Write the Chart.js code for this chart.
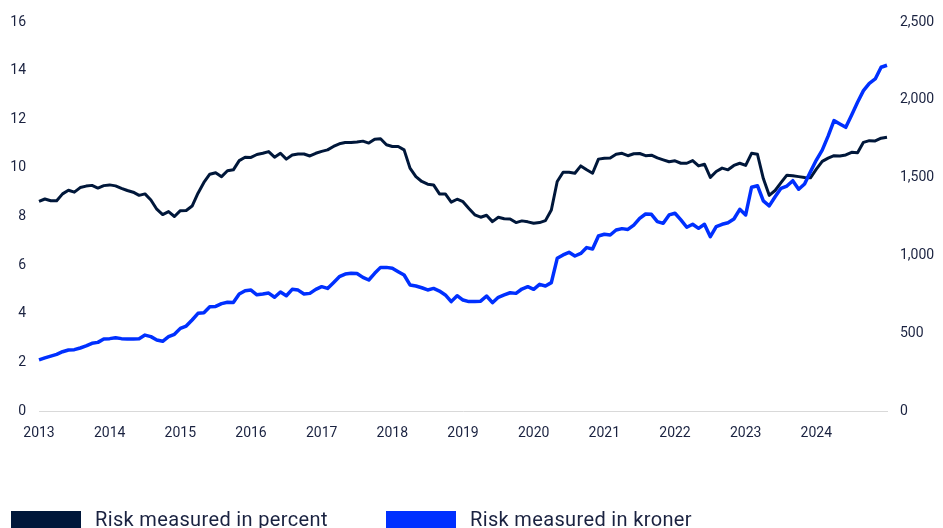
<!DOCTYPE html>
<html><head><meta charset="utf-8">
<script src="https://cdn.jsdelivr.net/npm/chart.js@4.4.0/dist/chart.umd.min.js"></script>
<style>
html,body{margin:0;padding:0;background:#fff;overflow:hidden;width:943px;height:528px}
#wrap{position:relative;width:943px;height:528px;overflow:hidden}
canvas{position:absolute;left:0;top:0}
.lg{position:absolute;font-family:Roboto,sans-serif;font-size:20px;letter-spacing:0.35px;color:#1a2240;white-space:nowrap;line-height:24px}
.bx{position:absolute;width:70px;height:20px}
</style></head>
<body><div id="wrap"><canvas id="c" width="943" height="528"></canvas>
<div class="bx" style="left:11px;top:511px;background:#00173a"></div>
<div class="lg" style="left:95px;top:507px">Risk measured in percent</div>
<div class="bx" style="left:386px;top:511px;background:#0030ff"></div>
<div class="lg" style="left:470px;top:507px">Risk measured in kroner</div>
</div>
<script>
// Categories: monthly observations, Jan 2013 .. Jan 2025
const startYear = 2013;
const nMonths = 145;
const yearTicks = ['2013','2014','2015','2016','2017','2018','2019','2020','2021','2022','2023','2024'];
const months = [];
for (let i = 0; i < nMonths; i++) {
  const y = startYear + Math.floor(i / 12), m = (i % 12) + 1;
  months.push(y + '-' + String(m).padStart(2, '0'));
}

// Risk measured in percent (left axis)
const riskPercent = [
  8.62, 8.72, 8.65, 8.65, 8.93, 9.08, 9.0, 9.19, 9.25, 9.28, 9.17, 9.27,
  9.3, 9.26, 9.16, 9.07, 9.0, 8.87, 8.93, 8.68, 8.3, 8.08, 8.2, 8.0,
  8.24, 8.25, 8.43, 8.96, 9.4, 9.74, 9.8, 9.64, 9.88, 9.92, 10.3, 10.44,
  10.43, 10.55, 10.6, 10.67, 10.44, 10.6, 10.36, 10.53, 10.57, 10.57, 10.49, 10.6,
  10.68, 10.74, 10.88, 10.99, 11.04, 11.04, 11.06, 11.1, 11.02, 11.18, 11.2, 10.95,
  10.88, 10.88, 10.74, 9.99, 9.64, 9.44, 9.33, 9.3, 8.93, 8.93, 8.59, 8.71,
  8.61, 8.33, 8.07, 7.97, 8.05, 7.79, 7.97, 7.91, 7.9, 7.75, 7.82, 7.78,
  7.72, 7.75, 7.83, 8.27, 9.44, 9.82, 9.82, 9.78, 10.08, 9.92, 9.78, 10.36,
  10.4, 10.41, 10.56, 10.6, 10.5, 10.58, 10.59, 10.5, 10.52, 10.41, 10.33, 10.25,
  10.29, 10.19, 10.19, 10.3, 10.08, 10.15, 9.61, 9.85, 9.99, 9.92, 10.1, 10.19,
  10.1, 10.6, 10.56, 9.56, 8.87, 9.07, 9.39, 9.7, 9.68, 9.64, 9.6, 9.59,
  9.95, 10.27, 10.4, 10.5, 10.49, 10.53, 10.64, 10.62, 11.05, 11.12, 11.11, 11.22, 11.26
];

// Risk measured in kroner (right axis)
const riskKroner = [
  328, 341, 353, 364, 381, 392, 394, 405, 418, 435, 441, 463,
  465, 471, 465, 463, 463, 465, 488, 478, 456, 448, 478, 493,
  531, 546, 585, 628, 632, 670, 672, 690, 699, 697, 752, 773,
  777, 747, 752, 758, 731, 765, 741, 782, 777, 752, 756, 782,
  799, 788, 825, 863, 880, 885, 884, 859, 842, 885, 923, 923,
  917, 895, 874, 810, 803, 792, 778, 788, 771, 746, 703, 741,
  713, 703, 703, 706, 739, 696, 731, 746, 760, 756, 784, 799,
  782, 814, 803, 825, 981, 1003, 1020, 996, 1013, 1050, 1041, 1125,
  1136, 1131, 1163, 1172, 1167, 1195, 1238, 1266, 1264, 1217, 1206, 1260,
  1271, 1228, 1181, 1200, 1174, 1200, 1120, 1185, 1200, 1210, 1234, 1296,
  1260, 1438, 1448, 1350, 1318, 1377, 1431, 1446, 1480, 1425, 1459, 1538,
  1613, 1677, 1767, 1866, 1845, 1823, 1902, 1984, 2059, 2106, 2134, 2209, 2222
];

const seriesNames = ['Risk measured in percent', 'Risk measured in kroner'];

const tickColor = '#1a2240';
const tickFont = { family: 'Roboto', size: 14 };

new Chart(document.getElementById('c'), {
  type: 'line',
  data: {
    labels: months,
    datasets: [
      { label: seriesNames[0], data: riskPercent, yAxisID: 'y', borderColor: '#00173a', borderWidth: 3,
        pointRadius: 0, tension: 0, borderJoinStyle: 'round', order: 1 },
      { label: seriesNames[1], data: riskKroner, yAxisID: 'y1', borderColor: '#0030ff', borderWidth: 3.5,
        pointRadius: 0, tension: 0, borderJoinStyle: 'round', order: 0 }
    ]
  },
  options: {
    responsive: false,
    animation: false,
    layout: { padding: { top: 22, left: 0, right: 0, bottom: 0 } },
    plugins: { legend: { display: false }, tooltip: { enabled: false } },
    scales: {
      x: {
        type: 'category',
        offset: false,
        grid: { display: false, drawTicks: false },
        border: { display: true, color: '#d9d9d9', width: 1 },
        ticks: {
          autoSkip: false, maxRotation: 0, minRotation: 0, padding: 14,
          color: tickColor, font: tickFont,
          callback: function (v, i) {
            const lab = months[i];
            if (lab.endsWith('-01') && yearTicks.includes(lab.slice(0, 4))) return lab.slice(0, 4);
            return null;
          }
        },
        afterFit: s => { s.height = 117; }
      },
      y: {
        position: 'left', min: 0, max: 16,
        grid: { display: false, drawTicks: false },
        border: { display: false },
        ticks: { stepSize: 2, padding: 13, color: tickColor, font: tickFont },
        afterFit: s => { s.width = 39; }
      },
      y1: {
        position: 'right', min: 0, max: 2500,
        grid: { display: false, drawTicks: false },
        border: { display: false },
        ticks: { stepSize: 500, padding: 13, color: tickColor, font: tickFont,
          callback: v => v.toLocaleString('en-US') },
        afterFit: s => { s.width = 56; }
      }
    }
  }
});
</script>
</body></html>
